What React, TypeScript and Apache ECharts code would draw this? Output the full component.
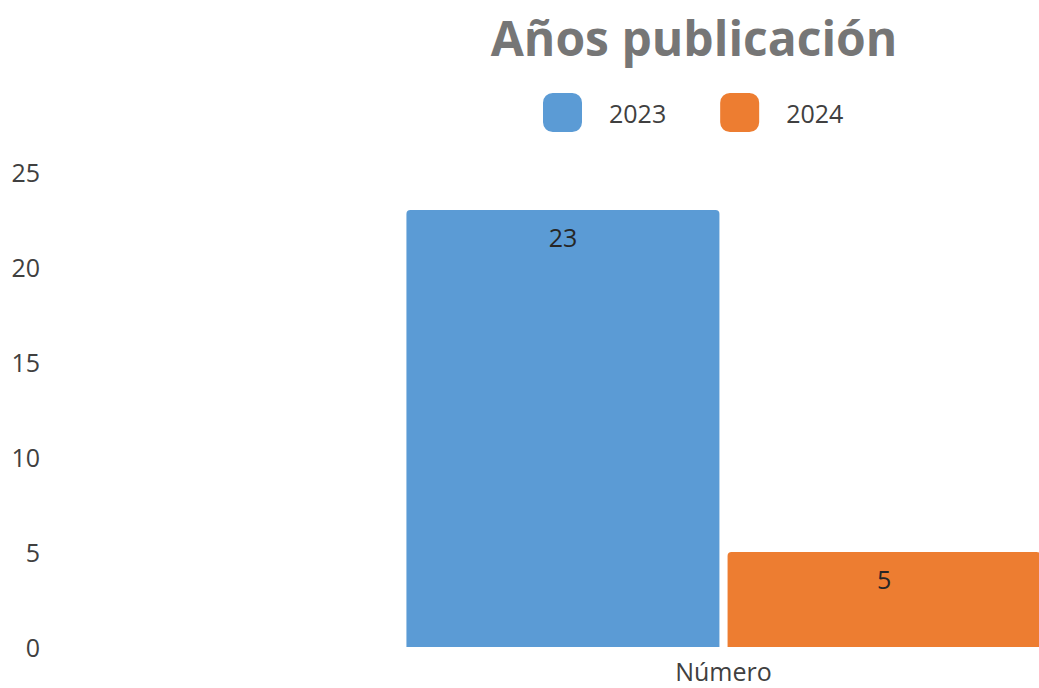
import React, { useEffect, useRef } from "react";
import * as echarts from "echarts";

const categories = ["Número"];
const seriesNames = ["2023", "2024"];
const values2023 = [23];
const values2024 = [5];
const colors = ["#5B9BD5", "#ED7D31"];
const titleText = "Años publicación";

export default function App() {
  const ref = useRef<HTMLDivElement>(null);
  useEffect(() => {
    if (!ref.current) return;
    const chart = echarts.init(ref.current, undefined, { renderer: "svg" });
    const font = "'Open Sans', sans-serif";
    chart.setOption({
      animation: false,
      backgroundColor: "#ffffff",
      textStyle: { fontFamily: font },
      graphic: [
        {
          type: "text",
          x: 694,
          y: 37,
          style: {
            text: titleText,
            fill: "#767676",
            font: "bold 48px 'Open Sans', sans-serif",
            textAlign: "center",
            textVerticalAlign: "middle",
          },
        },
      ],
      legend: {
        left: 543,
        top: 93,
        padding: 0,
        itemWidth: 39,
        itemHeight: 39,
        itemGap: 54,
        icon: "roundRect",
        data: seriesNames,
        textStyle: {
          fontFamily: font,
          fontSize: 25,
          color: "#404040",
          padding: [0, 0, 0, 22],
        },
      },
      grid: {
        left: 48,
        top: 172,
        bottom: 41,
        width: 1351,
        containLabel: false,
        outerBoundsMode: "none",
      },
      xAxis: {
        type: "category",
        data: categories,
        axisLine: { show: false },
        axisTick: { show: false },
        axisLabel: {
          fontFamily: font,
          fontSize: 25,
          lineHeight: 26,
          color: "#404040",
          margin: 11,
        },
      },
      yAxis: {
        type: "value",
        min: 0,
        max: 25,
        interval: 5,
        splitLine: { show: false },
        axisLine: { show: false },
        axisTick: { show: false },
        axisLabel: {
          fontFamily: font,
          fontSize: 25,
          color: "#404040",
          margin: 8,
        },
      },
      series: [
        {
          name: seriesNames[0],
          type: "bar",
          data: values2023,
          barWidth: 313,
          barGap: "2.6%",
          itemStyle: { color: colors[0], borderRadius: [4, 4, 0, 0] },
          label: {
            show: true,
            position: "insideTop",
            distance: 14,
            fontFamily: font,
            fontSize: 25,
            color: "#262626",
          },
        },
        {
          name: seriesNames[1],
          type: "bar",
          data: values2024,
          barWidth: 313,
          itemStyle: { color: colors[1], borderRadius: [4, 4, 0, 0] },
          label: {
            show: true,
            position: "insideTop",
            distance: 14,
            fontFamily: font,
            fontSize: 25,
            color: "#262626",
          },
        },
      ],
    });
    return () => chart.dispose();
  }, []);
  return (
    <div
      ref={ref}
      style={{ position: "fixed", left: 0, top: 0, width: 1039, height: 688 }}
    />
  );
}
